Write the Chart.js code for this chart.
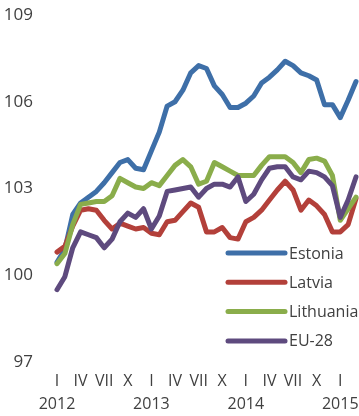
<!DOCTYPE html>
<html>
<head>
<meta charset="utf-8">
<script src="https://cdn.jsdelivr.net/npm/chart.js@4/dist/chart.umd.min.js"></script>
<style>
  html, body { margin: 0; padding: 0; background: #ffffff; }
  #wrap { width: 359px; height: 416px; position: relative; }
</style>
</head>
<body>
<div id="wrap"><canvas id="c" width="359" height="416"></canvas></div>
<script>
// Monthly index, January 2012 – March 2015
const years = [2012, 2013, 2014, 2015];
const monthTicks = ['I', '', '', 'IV', '', '', 'VII', '', '', 'X', '', ''];
const yTicks = [97, 100, 103, 106, 109];

const estonia = [
  100.45, 100.9, 102.1, 102.5, 102.7, 102.9, 103.2, 103.55, 103.9, 104.0, 103.7, 103.65,
  104.3, 104.95, 105.85, 106.0, 106.4, 107.0, 107.25, 107.15, 106.55, 106.25, 105.8, 105.8,
  105.95, 106.2, 106.65, 106.85, 107.1, 107.4, 107.25, 107.0, 106.9, 106.75, 105.9, 105.9,
  105.45, 106.05, 106.7
];
const latvia = [
  100.8, 101.0, 101.7, 102.25, 102.3, 102.25, 101.9, 101.6, 101.8, 101.7, 101.6, 101.65,
  101.45, 101.4, 101.85, 101.9, 102.2, 102.5, 102.35, 101.5, 101.5, 101.65, 101.3, 101.25,
  101.85, 102.0, 102.25, 102.6, 102.95, 103.25, 102.95, 102.25, 102.6, 102.4, 102.1, 101.5,
  101.5, 101.75, 102.65
];
const lithuania = [
  100.4, 100.75, 101.75, 102.45, 102.5, 102.55, 102.55, 102.75, 103.35, 103.2, 103.05, 103.0,
  103.2, 103.1, 103.45, 103.8, 104.0, 103.75, 103.15, 103.25, 103.9, 103.75, 103.6, 103.45,
  103.45, 103.45, 103.8, 104.1, 104.1, 104.1, 103.9, 103.55, 104.0, 104.05, 103.95, 103.45,
  101.9, 102.3, 102.7
];
const eu28 = [
  99.5, 99.95, 100.95, 101.5, 101.4, 101.3, 100.95, 101.25, 101.85, 102.15, 102.0, 102.3,
  101.6, 102.05, 102.9, 102.95, 103.0, 103.05, 102.7, 103.0, 103.15, 103.15, 103.05, 103.4,
  102.55, 102.8, 103.3, 103.7, 103.75, 103.75, 103.4, 103.3, 103.6, 103.55, 103.4, 103.1,
  102.0, 102.6, 103.4
];

const seriesNames = ['Estonia', 'Latvia', 'Lithuania', 'EU-28'];
const seriesColors = ['#3e6fa8', '#b3403a', '#8aad4b', '#5e4a7e'];
const seriesValues = [estonia, latvia, lithuania, eu28];

// Category labels: month numeral, with the year under each January
const labels = [];
for (let i = 0; i < estonia.length; i++) {
  const m = i % 12;
  const y = years[Math.floor(i / 12)];
  labels.push(m === 0 ? [monthTicks[m], String(y)] : monthTicks[m]);
}

const FONT = '"Open Sans", "Noto Sans", sans-serif';
const TEXT = '#404040';

// Later series are painted above earlier ones
const datasets = seriesNames.map((name, k) => ({
  label: name,
  data: seriesValues[k],
  borderColor: seriesColors[k],
  backgroundColor: seriesColors[k],
  borderWidth: 5,
  borderJoinStyle: 'round',
  borderCapStyle: 'round',
  pointRadius: 0,
  tension: 0,
  fill: false,
  clip: false,
  order: seriesNames.length - k
}));

// Legend drawn inside the plot, lower right
const insideLegend = {
  id: 'insideLegend',
  afterDraw(chart) {
    const ctx = chart.ctx;
    const x0 = 228, x1 = 285, tx = 289, y0 = 253, dy = 29.3;
    ctx.save();
    ctx.font = '16px ' + FONT;
    ctx.textAlign = 'left';
    ctx.textBaseline = 'middle';
    chart.data.datasets.forEach((ds, i) => {
      const y = y0 + i * dy;
      ctx.beginPath();
      ctx.lineWidth = 5;
      ctx.lineCap = 'round';
      ctx.strokeStyle = ds.borderColor;
      ctx.moveTo(x0, y);
      ctx.lineTo(x1, y);
      ctx.stroke();
      ctx.fillStyle = TEXT;
      ctx.fillText(ds.label, tx, y + 1);
    });
    ctx.restore();
  }
};

new Chart(document.getElementById('c'), {
  type: 'line',
  data: { labels, datasets },
  options: {
    responsive: false,
    animation: false,
    devicePixelRatio: 1,
    layout: { padding: { top: 15, right: 3, bottom: 0, left: 0 } },
    plugins: { legend: { display: false }, tooltip: { enabled: false } },
    scales: {
      x: {
        type: 'category',
        offset: false,
        grid: { display: false, drawTicks: false },
        border: { display: false },
        ticks: {
          autoSkip: false,
          maxRotation: 0,
          minRotation: 0,
          padding: 8,
          color: TEXT,
          font: { family: FONT, size: 16, lineHeight: 1.44 }
        },
        afterFit(scale) {
          scale.height = 54;
          scale.paddingLeft = 0;
          scale.paddingRight = 0;
        }
      },
      y: {
        min: yTicks[0],
        max: yTicks[yTicks.length - 1],
        afterBuildTicks(scale) { scale.ticks = yTicks.map(v => ({ value: v })); },
        grid: { display: false, drawTicks: false },
        border: { display: false },
        ticks: {
          padding: 24,
          color: TEXT,
          font: { family: FONT, size: 17 }
        },
        afterFit(scale) {
          scale.width = 57;
          scale.paddingTop = 0;
          scale.paddingBottom = 0;
        }
      }
    }
  },
  plugins: [insideLegend]
});
</script>
</body>
</html>
